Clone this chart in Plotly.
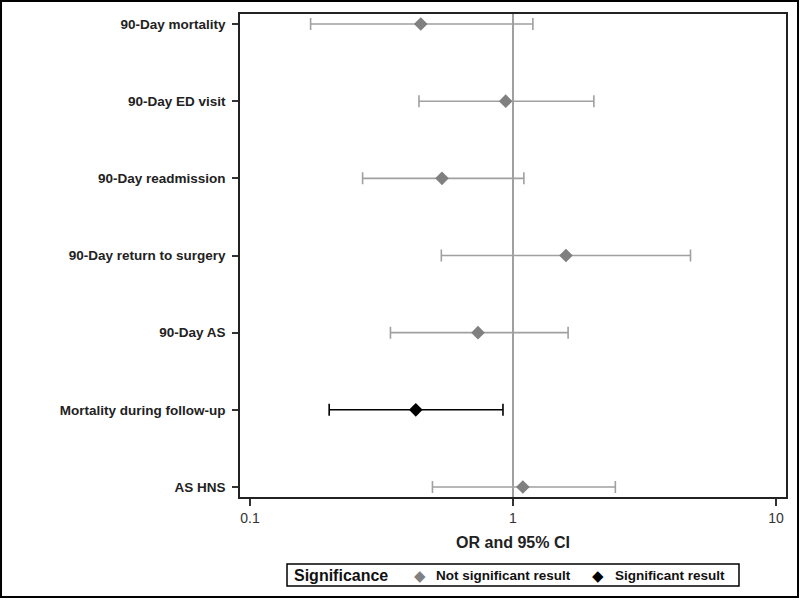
import plotly.graph_objects as go

categories = ["90-Day mortality", "90-Day ED visit", "90-Day readmission",
              "90-Day return to surgery", "90-Day AS", "Mortality during follow-up", "AS HNS"]
odds_ratio = [0.446, 0.938, 0.537, 1.59, 0.736, 0.427, 1.09]
ci_lower = [0.170, 0.439, 0.268, 0.534, 0.342, 0.200, 0.494]
ci_upper = [1.19, 2.03, 1.10, 4.73, 1.62, 0.916, 2.45]
significant = [False, False, False, False, False, True, False]
tick_vals = [0.1, 1, 10]
tick_text = ["0.1", "1", "10"]
legend_names = ["Not significant result", "Significant result"]

fig = go.Figure()

groups = [
    (legend_names[0], False, "#808080", "#a0a0a0"),
    (legend_names[1], True, "#000000", "#000000"),
]
for name, flag, mcol, ecol in groups:
    idx = [i for i, s in enumerate(significant) if s == flag]
    xs = [odds_ratio[i] for i in idx]
    ys = [categories[i] for i in idx]
    plus = [ci_upper[i] - odds_ratio[i] for i in idx]
    minus = [odds_ratio[i] - ci_lower[i] for i in idx]
    fig.add_trace(go.Scatter(
        x=xs, y=ys, mode="markers", name=name, showlegend=False,
        marker=dict(symbol="diamond", size=10.5, color=mcol),
        error_x=dict(type="data", array=plus, arrayminus=minus, symmetric=False,
                     color=ecol, thickness=1.6, width=6),
    ))

fig.add_vline(x=1, line=dict(color="#808080", width=1.5), layer="below")

# outer frame (paper coords relative to plot area 240..786 x 14..497)
fig.add_shape(type="rect", xref="paper", yref="paper",
              x0=-0.4377, x1=1.0220, y0=-0.2070, y1=1.0270,
              line=dict(color="black", width=2))

# manual legend box
fig.add_shape(type="rect", xref="paper", yref="paper",
              x0=0.0861, x1=0.9139, y0=-0.1843, y1=-0.1387,
              line=dict(color="black", width=1.5), fillcolor="white")
leg_y = -0.1615
fig.add_annotation(xref="paper", yref="paper", x=0.0952, y=leg_y, xanchor="left", yanchor="middle",
                   text="<b>Significance</b>", showarrow=False, font=dict(size=16, color="#111"))
fig.add_annotation(xref="paper", yref="paper", x=0.3297, y=leg_y, xanchor="center", yanchor="middle",
                   text="◆", showarrow=False, font=dict(size=15, color="#808080"))
fig.add_annotation(xref="paper", yref="paper", x=0.3553, y=leg_y, xanchor="left", yanchor="middle",
                   text="<b>" + legend_names[0] + "</b>", showarrow=False, font=dict(size=13.5, color="#111"))
fig.add_annotation(xref="paper", yref="paper", x=0.6562, y=leg_y, xanchor="center", yanchor="middle",
                   text="◆", showarrow=False, font=dict(size=15, color="#000"))
fig.add_annotation(xref="paper", yref="paper", x=0.6837, y=leg_y, xanchor="left", yanchor="middle",
                   text="<b>" + legend_names[1] + "</b>", showarrow=False, font=dict(size=13.5, color="#111"))

fig.update_layout(
    width=800, height=600,
    margin=dict(l=240, r=14, t=14, b=103),
    plot_bgcolor="white", paper_bgcolor="white",
    font=dict(family="Liberation Sans, Arial, sans-serif", color="#222222"),
    showlegend=False,
    xaxis=dict(
        type="log", range=[-1.038, 1.038],
        tickvals=tick_vals, ticktext=tick_text,
        ticks="outside", ticklen=7, tickwidth=1.5, tickcolor="#333",
        showgrid=False, zeroline=False,
        showline=True, linecolor="#222", linewidth=1.5, mirror=True,
        tickfont=dict(size=14, color="#333"),
        title=dict(text="<b>OR and 95% CI</b>", font=dict(size=16, color="#222"), standoff=12),
    ),
    yaxis=dict(
        type="category", categoryorder="array", categoryarray=categories,
        range=[6.13, -0.13],
        ticks="outside", ticklen=6, tickwidth=1.5, tickcolor="#333",
        showgrid=False, zeroline=False,
        showline=True, linecolor="#222", linewidth=1.5, mirror=True,
        tickfont=dict(size=13.5, color="#222"),
        tickprefix="<b>", ticksuffix="</b>",
        ticklabelstandoff=4,
    ),
)

fig.write_html("out.html", config={"displayModeBar": False},
               post_script="document.body.style.margin='0';document.body.style.overflow='hidden';")
